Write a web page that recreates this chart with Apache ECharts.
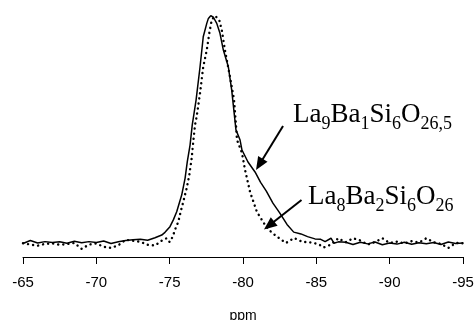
<!DOCTYPE html>
<html>
<head>
<meta charset="utf-8">
<script src="https://cdn.jsdelivr.net/npm/echarts@6/dist/echarts.min.js"></script>
<style>
html,body{margin:0;padding:0;background:#fff;}
#chart{width:476px;height:320px;}
</style>
</head>
<body>
<div id="chart"></div>
<script>
// x positions (ppm) and intensities of the solid spectrum (La9Ba1Si6O26,5)
var solidPpm = [-65, -65.5, -66, -66.5, -67, -67.5, -68, -68.5, -69, -69.5, -70, -70.5, -71, -71.5, -72, -72.5, -73, -73.5, -74, -74.46, -74.68, -75.02, -75.25, -75.48, -75.82, -76.05, -76.20, -76.39, -76.54, -76.80, -77.07, -77.29, -77.53, -77.64, -77.80, -77.98, -78.21, -78.43, -78.66, -79.00, -79.23, -79.52, -79.80, -79.93, -80.34, -80.82, -81.20, -81.59, -82.04, -82.49, -83.00, -83.46, -83.95, -84.40, -84.91, -85.30, -85.60, -86.00, -86.20, -86.50, -87, -87.5, -88, -88.5, -89, -89.5, -90, -90.5, -91, -91.5, -92, -92.5, -93, -93.5, -94, -94.5, -95];
var solidValues = [-1.0, 0.3, -0.8, -0.2, -0.6, -0.3, -0.9, 0.0, -0.7, -0.2, -0.6, 0.1, -1.0, -0.3, 0.3, 0.6, 0.8, 0.4, 1.5, 2.7, 3.9, 6.4, 9.4, 13.0, 20.4, 27.8, 35.1, 42.5, 51.4, 62.4, 77.0, 90.4, 96.3, 98.5, 99.7, 99.0, 96.3, 91.9, 84.5, 77.1, 66.8, 49.2, 44.7, 40.3, 35.0, 30.6, 26.0, 22.1, 16.8, 12.6, 7.4, 4.0, 3.2, 2.0, 1.0, 0.8, -0.2, 1.3, -0.9, -0.3, -0.5, -1.5, -0.5, -1.2, -0.4, -1.6, -0.8, -1.3, -0.5, -1.4, -0.7, -1.1, -0.6, -1.5, -0.4, -1.0, -0.8];

// x positions (ppm) and intensities of the dotted spectrum (La8Ba2Si6O26)
var dottedPpm = [-65, -65.5, -66, -66.5, -67, -67.5, -68, -68.5, -69, -69.5, -70, -70.5, -71, -71.5, -72, -72.5, -73, -73.5, -74, -74.52, -74.80, -75.00, -75.21, -75.36, -75.59, -75.75, -75.93, -76.16, -76.34, -76.50, -76.61, -76.73, -76.84, -77.07, -77.29, -77.53, -77.70, -77.87, -78.09, -78.21, -78.38, -78.55, -78.77, -79.11, -79.39, -79.52, -79.59, -79.93, -80.14, -80.48, -80.95, -81.50, -81.85, -82.18, -82.45, -82.93, -83.48, -84.09, -84.43, -84.84, -85.2, -85.5, -86, -86.5, -87, -87.5, -88, -88.5, -89, -89.5, -90, -90.5, -91, -91.5, -92, -92.5, -93, -93.5, -94, -94.5, -95];
var dottedValues = [-0.9, -1.5, -2.0, -1.2, -1.0, -1.6, -1.3, -0.8, -3.4, -1.5, -1.0, -2.5, -3.0, -1.8, 0.6, 0.2, -0.3, -1.6, -1.9, 0.5, 1.3, -0.4, 2.0, 5.0, 8.6, 13.0, 17.5, 23.4, 29.3, 36.6, 44.0, 51.4, 55.0, 65.4, 77.1, 84.5, 91.9, 97.8, 99.7, 99.7, 97.8, 93.4, 84.5, 72.7, 62.4, 51.4, 44.8, 39.0, 31.5, 21.8, 12.9, 7.2, 4.5, 2.7, 1.4, -0.8, 1.4, -0.4, -0.4, -0.8, -1.5, -2.8, -1.5, 1.3, -0.5, 1.3, 0.3, -1.5, -0.4, 1.3, -0.8, -0.2, -1.0, 0.0, -0.6, 1.3, -0.5, -1.2, -3.0, -0.8, -0.9];

// axis
var xTicks = [-65, -70, -75, -80, -85, -90, -95];
var axisName = 'ppm';

// annotation arrows: [start ppm, start value, head ppm, head value]
var arrowSolid = [-82.73, 50.9, -81.12, 33.9];
var arrowDotted = [-83.99, 18.2, -81.78, 6.9];

function zip(xs, ys) { return xs.map(function (x, i) { return [x, ys[i]]; }); }

var chart = echarts.init(document.getElementById('chart'), null, {renderer: 'canvas'});

var richStyles = {
  m: {fontFamily: 'Liberation Serif', fontSize: 27, lineHeight: 36, color: '#000'},
  s: {fontFamily: 'Liberation Serif', fontSize: 18, lineHeight: 15, padding: [19, 0, 0, 0], color: '#000'}
};

chart.setOption({
  animation: false,
  backgroundColor: '#fff',
  grid: {left: 23, right: 13, top: 15, bottom: 63, containLabel: false, outerBoundsMode: 'none'},
  xAxis: {
    type: 'value',
    min: -95, max: -65, interval: 5, inverse: true,
    name: axisName, nameLocation: 'middle', nameGap: 52,
    nameTextStyle: {fontFamily: 'Liberation Sans', fontSize: 14, color: '#000'},
    axisLine: {show: true, onZero: false, lineStyle: {color: '#000', width: 1}},
    axisTick: {show: true, length: 7, lineStyle: {color: '#000', width: 1}},
    axisLabel: {
      show: true, margin: 18, showMinLabel: true, showMaxLabel: true,
      fontFamily: 'Liberation Sans', fontSize: 15, color: '#000',
      formatter: function (v) { return xTicks.indexOf(v) >= 0 ? String(v) : ''; }
    },
    splitLine: {show: false}
  },
  yAxis: {
    type: 'value', min: -7, max: 100, show: false,
    splitLine: {show: false}
  },
  series: [
    {
      name: 'La9Ba1Si6O26,5', type: 'line', data: zip(solidPpm, solidValues),
      showSymbol: false, symbol: 'none', smooth: false,
      lineStyle: {color: '#000', width: 1.5},
      markLine: {
        silent: true, symbol: ['none', 'triangle'], symbolSize: [11, 13],
        label: {show: false},
        lineStyle: {color: '#000', width: 2, type: 'solid'},
        emphasis: {disabled: true},
        data: [
          [{coord: [arrowSolid[0], arrowSolid[1]]}, {coord: [arrowSolid[2], arrowSolid[3]]}],
          [{coord: [arrowDotted[0], arrowDotted[1]]}, {coord: [arrowDotted[2], arrowDotted[3]]}]
        ]
      }
    },
    {
      name: 'La8Ba2Si6O26', type: 'line', data: zip(dottedPpm, dottedValues),
      showSymbol: false, symbol: 'none', smooth: false,
      lineStyle: {color: '#000', width: 2.4, type: [0.1, 5], cap: 'round'}
    }
  ],
  graphic: [
    {type: 'text', left: 293, top: 96, silent: true,
     style: {text: '{m|La}{s|9}{m|Ba}{s|1}{m|Si}{s|6}{m|O}{s|26,5}', rich: richStyles, fill: '#000'}},
    {type: 'text', left: 308, top: 178, silent: true,
     style: {text: '{m|La}{s|8}{m|Ba}{s|2}{m|Si}{s|6}{m|O}{s|26}', rich: richStyles, fill: '#000'}}
  ]
});
</script>
</body>
</html>
